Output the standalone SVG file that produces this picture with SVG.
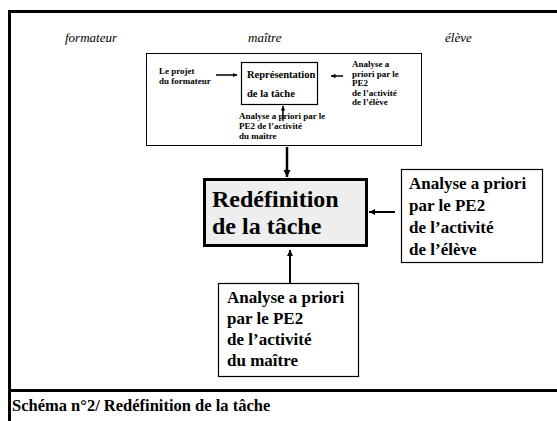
<svg xmlns="http://www.w3.org/2000/svg" width="557" height="421" viewBox="0 0 557 421">
<style>
text{font-family:"Liberation Serif","Times New Roman",serif;fill:#000}
.hdr{font-style:italic;font-size:13px}
.sm{font-weight:bold;font-size:9px}
.md{font-weight:bold;font-size:10.5px}
.lg{font-weight:bold;font-size:17px}
.xl{font-weight:bold;font-size:24px}
.ft{font-weight:bold;font-size:16.5px}
.box{fill:#fff;stroke:#000}
.ln{stroke:#000;fill:none}
</style>
<defs>
<marker id="ah" viewBox="0 0 10 10" refX="10" refY="5" markerWidth="3" markerHeight="3" orient="auto" markerUnits="strokeWidth"><path d="M0,0 L10,5 L0,10 z" fill="#000"/></marker>
</defs>
<rect width="557" height="421" fill="#fff"/>
<g id="frame">
<line class="ln" x1="9.5" y1="10" x2="9.5" y2="421" stroke-width="3"/>
<line class="ln" x1="8" y1="11.5" x2="557" y2="11.5" stroke-width="3"/>
<line class="ln" x1="8" y1="390.5" x2="557" y2="390.5" stroke-width="3"/>
</g>
<g id="headers">
<text class="hdr" x="65" y="42">formateur</text>
<text class="hdr" x="248" y="42">maître</text>
<text class="hdr" x="445" y="42">élève</text>
</g>
<g id="inner">
<rect class="box" x="146.5" y="53.5" width="275" height="92" stroke-width="1"/>
</g>
<g id="representation">
<rect class="box" x="241.5" y="62.5" width="76" height="42" stroke-width="1.2"/>
<text class="md" x="247" y="78">Représentation</text>
<text class="md" x="247" y="97">de la tâche</text>
</g>
<g id="projet">
<text class="sm" x="159" y="74">Le projet</text>
<text class="sm" x="159" y="84">du formateur</text>
</g>
<g id="eleve-small">
<text class="sm" x="352" y="67">Analyse a</text>
<text class="sm" x="352" y="77">priori par le</text>
<text class="sm" x="352" y="86">PE2</text>
<text class="sm" x="352" y="96">de l’activité</text>
<text class="sm" x="352" y="105">de l’élève</text>
</g>
<g id="maitre-small">
<text class="sm" x="239" y="119">Analyse a priori par le</text>
<text class="sm" x="239" y="129">PE2 de l’activité</text>
<text class="sm" x="239" y="139">du maître</text>
</g>
<g id="redefinition">
<rect x="204.5" y="179.5" width="162" height="66" fill="#eeeeee" stroke="#000" stroke-width="3"/>
<text class="xl" x="212" y="207">Redéfinition</text>
<text class="xl" x="212" y="234">de la tâche</text>
</g>
<g id="eleve-big">
<rect class="box" x="401.5" y="169.5" width="141" height="93" stroke-width="1.2"/>
<text class="lg" x="409" y="189">Analyse a priori</text>
<text class="lg" x="409" y="211">par le PE2</text>
<text class="lg" x="409" y="233">de l’activité</text>
<text class="lg" x="409" y="255">de l’élève</text>
</g>
<g id="maitre-big">
<rect class="box" x="218.5" y="283.5" width="140" height="93" stroke-width="1.2"/>
<text class="lg" x="227" y="303">Analyse a priori</text>
<text class="lg" x="227" y="324">par le PE2</text>
<text class="lg" x="227" y="345">de l’activité</text>
<text class="lg" x="227" y="366">du maître</text>
</g>
<g id="footer">
<text class="ft" x="12" y="411">Schéma n°2/ Redéfinition de la tâche</text>
</g>
<g id="connectors">
<line class="ln" x1="216" y1="75" x2="237" y2="75" stroke-width="1.5" marker-end="url(#ah)"/>
<line class="ln" x1="343" y1="76" x2="331" y2="76" stroke-width="1.5" marker-end="url(#ah)"/>
<line class="ln" x1="283" y1="121" x2="283" y2="106" stroke-width="1.5" marker-end="url(#ah)"/>
<line class="ln" x1="287" y1="147" x2="287" y2="177" stroke-width="2.5" marker-end="url(#ah)"/>
<line class="ln" x1="395" y1="212" x2="369" y2="212" stroke-width="2" marker-end="url(#ah)"/>
<line class="ln" x1="290" y1="283" x2="290" y2="250" stroke-width="2" marker-end="url(#ah)"/>
</g>
</svg>
